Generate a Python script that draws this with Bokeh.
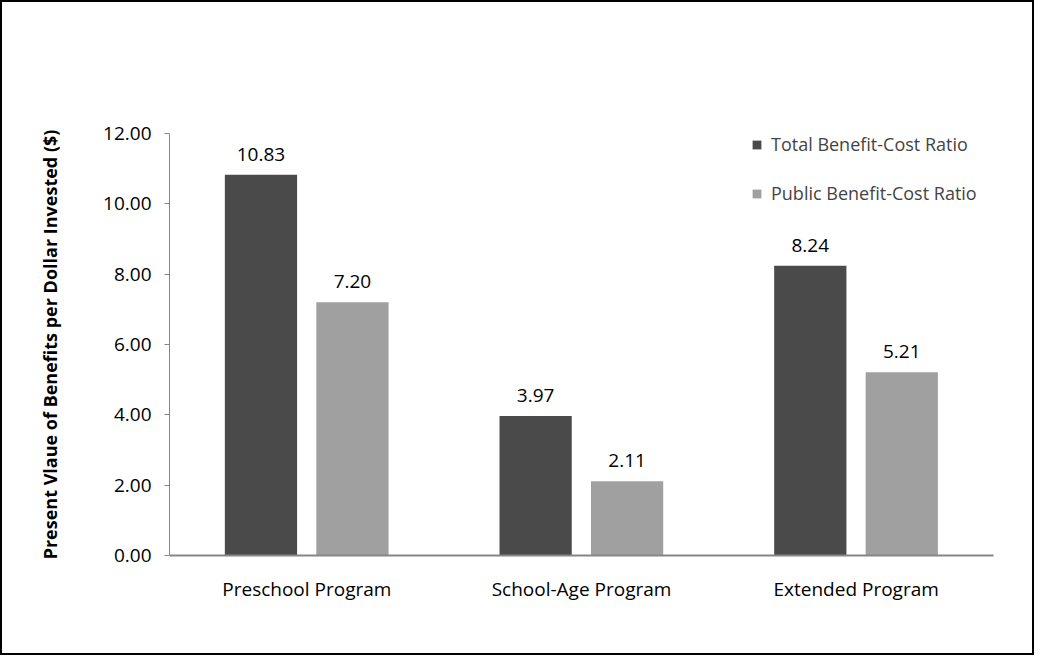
from bokeh.plotting import figure
from bokeh.models import ColumnDataSource, FactorRange, LabelSet, Legend, LegendItem, Range1d, NumeralTickFormatter, FixedTicker
from bokeh.core.properties import value
from bokeh.transform import dodge
from bokeh.embed import file_html
from bokeh.resources import INLINE

programs = ["Preschool Program", "School-Age Program", "Extended Program"]
total_ratio = [10.83, 3.97, 8.24]
public_ratio = [7.20, 2.11, 5.21]
series_names = ["Total Benefit-Cost Ratio", "Public Benefit-Cost Ratio"]
y_ticks = [0, 2, 4, 6, 8, 10, 12]

FONT = "Open Sans"
DARK = "#4a4a4a"
LIGHT = "#a0a0a0"
AXIS = "#868686"

src = ColumnDataSource(dict(
    prog=programs,
    total=total_ratio,
    public=public_ratio,
    total_lbl=[f"{v:.2f}" for v in total_ratio],
    public_lbl=[f"{v:.2f}" for v in public_ratio],
))

p = figure(width=1034, height=655, x_range=FactorRange(*programs), y_range=Range1d(0, 12),
           output_backend="svg", toolbar_location=None,
           min_border_left=167, min_border_right=43, min_border_top=131, min_border_bottom=102)
p.styles = {"border": "2px solid #000", "box-sizing": "border-box"}
p.outline_line_color = None
p.xgrid.grid_line_color = None
p.ygrid.grid_line_color = None
p.x_range.range_padding = 0

r1 = p.vbar(x=dodge("prog", -0.167, range=p.x_range), top="total", width=0.263, source=src,
            fill_color=DARK, line_color=None)
r2 = p.vbar(x=dodge("prog", 0.166, range=p.x_range), top="public", width=0.263, source=src,
            fill_color=LIGHT, line_color=None)

for col, off in (("total", -0.167), ("public", 0.166)):
    lab = LabelSet(x=dodge("prog", off, range=p.x_range), y=col, text=col + "_lbl", source=src,
                   text_align="center", text_baseline="bottom", y_offset=14,
                   text_font=value(FONT), text_font_size="19px", text_color="#000")
    p.add_layout(lab)

# axes
p.yaxis.ticker = FixedTicker(ticks=y_ticks)
p.yaxis.formatter = NumeralTickFormatter(format="0.00")
p.yaxis.axis_line_color = AXIS
p.yaxis.major_tick_line_color = AXIS
p.yaxis.major_tick_out = 5
p.yaxis.major_tick_in = 0
p.yaxis.minor_tick_line_color = None
p.yaxis.major_label_standoff = 13
p.yaxis.major_label_text_font = FONT
p.yaxis.major_label_text_font_size = "19px"
p.yaxis.major_label_text_color = "#000"
p.yaxis.axis_label = "Present Vlaue of Benefits per Dollar Invested ($)"
p.yaxis.axis_label_text_font = FONT
p.yaxis.axis_label_text_font_size = "18px"
p.yaxis.axis_label_text_font_style = "bold"
p.yaxis.axis_label_text_color = "#000"
p.yaxis.axis_label_standoff = 38

p.xaxis.axis_line_color = AXIS
p.xaxis.axis_line_width = 2
p.xaxis.major_tick_line_color = None
p.xaxis.minor_tick_line_color = None
p.xaxis.major_label_standoff = 14
p.xaxis.major_label_text_font = FONT
p.xaxis.major_label_text_font_size = "19px"
p.xaxis.major_label_text_color = "#000"

legend = Legend(items=[LegendItem(label=series_names[0], renderers=[r1]),
                       LegendItem(label=series_names[1], renderers=[r2])],
                location=(582, 350), orientation="vertical",
                glyph_width=11, glyph_height=11, spacing=25, padding=0, margin=0,
                label_text_font=FONT, label_text_font_size="18px", label_standoff=9,
                border_line_color=None, background_fill_alpha=0)
p.add_layout(legend)

open("out.html", "w").write(file_html(p, INLINE))
